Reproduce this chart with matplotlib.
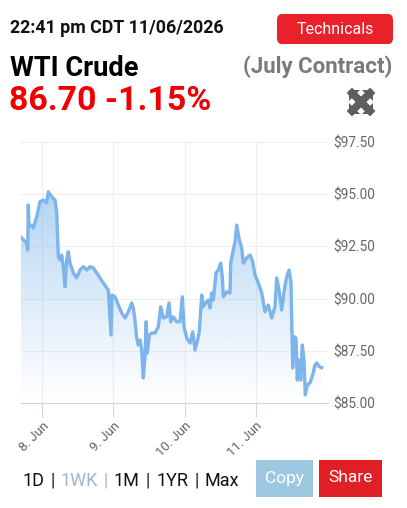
import matplotlib
matplotlib.use('Agg')
import matplotlib.pyplot as plt
import numpy as np
from matplotlib.patches import FancyBboxPatch, Rectangle, Polygon

plt.rcParams['font.family'] = ['Roboto', 'DejaVu Sans']

# hours since 8 Jun 00:00 and price in $
hours = [-7.07, -5.15, -4.81, -4.61, -4.38, -3.47, -2.93, -1.78, -0.67, 0.44,
         1.58, 2.12, 3.27, 4.38, 4.95, 5.49, 6.06, 6.63, 7.17, 7.74,
         8.31, 8.85, 9.42, 10.54, 11.68, 12.79, 13.90, 15.05, 16.16, 17.27,
         18.41, 19.52, 20.63, 22.32, 23.23, 23.56, 24.57, 25.68, 26.83, 27.94,
         29.05, 30.19, 30.73, 31.30, 31.88, 32.42, 32.99, 33.56, 34.10, 34.67,
         35.01, 35.44, 36.12, 36.93, 38.04, 39.15, 39.95, 40.83, 41.97, 42.75,
         43.32, 44.20, 45.34, 46.45, 47.23, 47.80, 48.71, 49.82, 50.73, 51.50,
         52.27, 52.95, 53.76, 54.29, 54.87, 55.98, 56.55, 57.12, 57.66, 58.57,
         59.34, 60.15, 60.69, 61.03, 62.17, 63.28, 63.52, 64.39, 64.97, 65.54,
         66.41, 67.22, 67.76, 68.90, 70.01, 70.92, 71.70, 72.81, 73.95, 75.06,
         76.17, 77.32, 78.43, 79.00, 79.87, 80.68, 81.56, 82.37, 83.14, 83.81,
         84.38, 84.82, 85.50, 85.93, 86.61, 87.08, 87.62, 88.19, 88.63, 89.30,
         90.21, 91.12, 91.89, 92.47, 93.34, 94.15]
prices = [92.94, 92.65, 92.33, 94.48, 93.44, 93.52, 93.38, 93.92, 94.64, 94.72,
          94.58, 95.12, 94.88, 94.72, 94.10, 92.01, 91.85, 92.09, 91.53, 90.57,
          91.85, 92.25, 91.70, 91.23, 90.99, 91.37, 91.53, 91.37, 91.53, 91.47,
          91.23, 90.99, 90.75, 90.41, 88.26, 90.17, 90.09, 89.69, 89.31, 89.07,
          89.37, 89.79, 89.55, 88.97, 88.11, 87.78, 88.02, 87.54, 86.20, 87.22,
          88.89, 87.39, 88.26, 88.35, 88.35, 88.65, 89.61, 89.07, 89.13, 89.79,
          88.89, 89.13, 88.89, 88.89, 90.09, 88.65, 88.11, 87.87, 88.41, 87.54,
          87.94, 88.41, 90.17, 89.61, 89.75, 89.93, 89.55, 90.27, 89.93, 91.23,
          91.37, 91.70, 91.05, 90.09, 90.33, 90.27, 91.70, 92.33, 92.72, 93.52,
          92.81, 92.42, 91.70, 91.95, 92.09, 91.77, 91.13, 90.75, 90.27, 89.37,
          89.69, 89.07, 89.61, 90.99, 90.33, 89.45, 90.41, 91.05, 91.37, 90.81,
          86.68, 88.18, 88.11, 86.10, 87.06, 86.10, 87.78, 87.06, 85.38, 85.86,
          85.96, 86.34, 86.82, 86.92, 86.74, 86.70]

day_ticks = [0, 24, 48, 72]
day_labels = ['8. Jun', '9. Jun', '10. Jun', '11. Jun']
y_ticks = [85.0, 87.5, 90.0, 92.5, 95.0, 97.5]
ranges = ['1D', '1WK', '1M', '1YR', 'Max']

W, H = 407, 508
fig = plt.figure(figsize=(W / 100, H / 100), dpi=100)

def px(x, y):
    return x / W, 1 - y / H

# chart
ax = fig.add_axes([21 / W, 1 - 403 / H, 307 / W, 261 / H])
ax.set_xlim(-7.07, 96.27)
ax.set_ylim(85, 97.5)
line_col = '#7cb5ec'

poly = ax.fill_between(hours, prices, 85, color='none', lw=0)
grad = np.zeros((256, 1, 4))
grad[:, 0, :3] = matplotlib.colors.to_rgb(line_col)
grad[:, 0, 3] = np.linspace(0.75, 0.0, 256) ** 1.1
img = ax.imshow(grad, extent=[-7.07, 96.27, 85, 97.5], aspect='auto',
                origin='upper', zorder=1)
img.set_clip_path(poly.get_paths()[0], transform=ax.transData)
ax.plot(hours, prices, color=line_col, lw=2.4, zorder=3, solid_joinstyle='round')

for s in ['top', 'left', 'right']:
    ax.spines[s].set_visible(False)
ax.spines['bottom'].set_color('#ccd6eb')
ax.yaxis.tick_right()
ax.set_yticks(y_ticks)
ax.set_yticklabels([f'${v:.2f}' for v in y_ticks])
ax.tick_params(axis='y', length=0, pad=4, labelsize=9.8, labelcolor='#666666')
ax.set_xticks(day_ticks)
ax.set_xticklabels(day_labels, rotation=45, ha='right', va='top',
                   rotation_mode='anchor')
ax.tick_params(axis='x', length=10, color='#ccd6eb', labelsize=9.5,
               labelcolor='#666666', pad=2)
ax.grid(True, color='#eeeeee', lw=0.8, zorder=0)
ax.set_axisbelow(True)

# header
fig.text(*px(10, 28), '22:41 pm CDT 11/06/2026', fontsize=12.8, fontweight='bold',
         va='center', ha='left', color='#111111')
btn = FancyBboxPatch(px(277, 44), 116 / W, 30 / H,
                     boxstyle='round,pad=0,rounding_size=0.012',
                     transform=fig.transFigure, fc='#e8212b', ec='none')
fig.add_artist(btn)
fig.text(*px(335, 29.5), 'Technicals', fontsize=11.5, color='white',
         va='center', ha='center')
fig.text(*px(10, 68), 'WTI Crude', fontsize=19.6, fontweight='bold',
         va='center', ha='left', color='black')
fig.text(*px(392, 67), '(July Contract)', fontsize=16, fontweight='bold',
         va='center', ha='right', color='#7a7a7a')
fig.text(*px(9, 101), '86.70 -1.15%', fontsize=24.4, fontweight='bold',
         va='center', ha='left', color='#f00000')

# expand icon
cx, cy = 361, 102
icon_col = '#5e5e5e'
for dx, dy in [(-1, -1), (1, -1), (-1, 1), (1, 1)]:
    tip = (cx + dx * 12, cy + dy * 12)
    tri = Polygon([px(*tip), px(tip[0] - dx * 11, tip[1]), px(tip[0], tip[1] - dy * 11)],
                  closed=True, transform=fig.transFigure, fc=icon_col, ec='none')
    fig.add_artist(tri)
    fig.add_artist(plt.Line2D([px(cx, cy)[0], px(tip[0] - dx * 3, 0)[0]],
                              [px(0, cy)[1], px(0, tip[1] - dy * 3)[1]],
                              transform=fig.transFigure, color=icon_col, lw=5.5))

# range selector
x0 = 22
fs = 13
for i, r in enumerate(ranges):
    col = '#9db8c9' if r == '1WK' else '#111111'
    t = fig.text(*px(x0, 481), r, fontsize=fs, color=col, va='center', ha='left')
    fig.canvas.draw()
    x0 = t.get_window_extent().x1 + 6
    if i < len(ranges) - 1:
        s = fig.text(*px(x0, 481), '|', fontsize=fs, color=col, va='center', ha='left')
        fig.canvas.draw()
        x0 = s.get_window_extent().x1 + 6

fig.add_artist(Rectangle(px(256, 497), 57 / W, 37 / H, transform=fig.transFigure,
                         fc='#9ec8e1', ec='none'))
fig.text(*px(284.5, 478), 'Copy', fontsize=12.5, color='white', va='center', ha='center')
fig.add_artist(Rectangle(px(319, 497), 63 / W, 37 / H, transform=fig.transFigure,
                         fc='#e02026', ec='none'))
fig.text(*px(350.5, 478), 'Share', fontsize=12.5, color='white', va='center', ha='center')

fig.savefig('out.png', dpi=100)
